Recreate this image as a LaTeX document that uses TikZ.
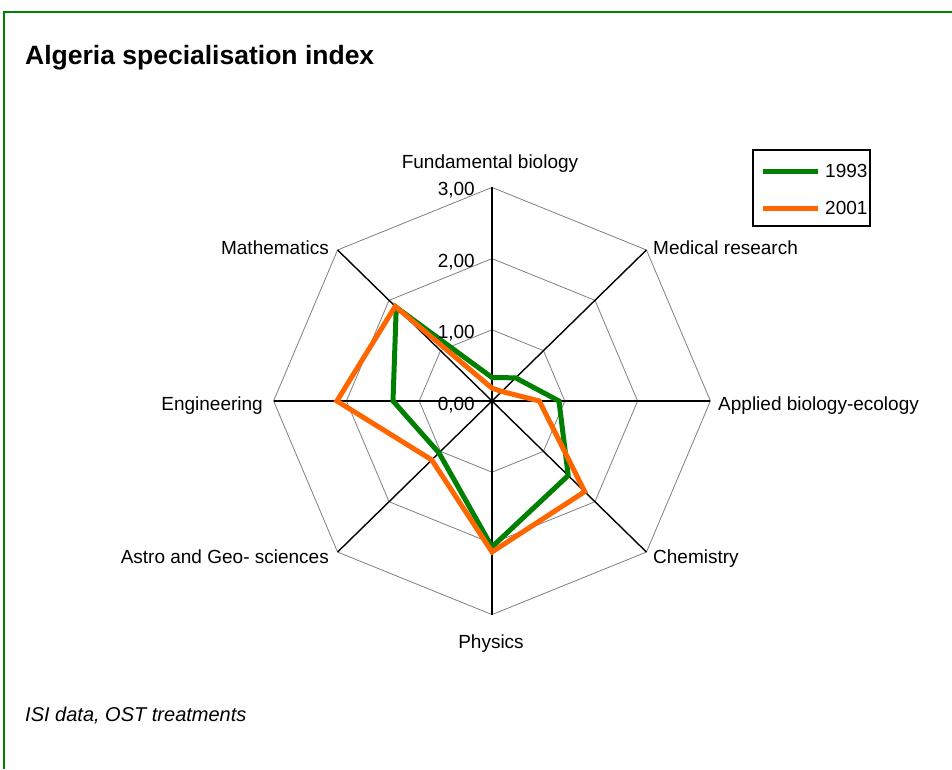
\documentclass[tikz,border=0pt]{standalone}
\usepackage{fontspec}
\setmainfont{Liberation Sans}
\definecolor{sgreen}{RGB}{0,128,0}
\definecolor{sorange}{RGB}{255,102,0}
\begin{document}
\begin{tikzpicture}[x=1pt,y=-1pt,
  lbl/.style={font=\fontsize{19}{22}\selectfont, inner sep=0pt},
  vallbl/.style={font=\fontsize{19}{22}\selectfont, inner sep=0pt, anchor=base east},
  spoke/.style={black, line width=1.4},
  gridline/.style={gray, line width=0.8},
  s1993/.style={sgreen, line width=5, line join=miter},
  s2001/.style={sorange, line width=5, line join=miter}]
\useasboundingbox (0,0) rectangle (952,769);
\fill[white] (0,0) rectangle (952,769);
\draw[sgreen, line width=2] (952,12) -- (4,12) -- (4,769);
\node[anchor=base west, inner sep=0pt, font=\bfseries\fontsize{26.5}{30}\selectfont] (title) at (25,64) {Algeria specialisation index};
\node[anchor=base west, inner sep=0pt, font=\itshape\fontsize{20}{24}\selectfont] (source) at (25,721) {ISI data, OST treatments};

\begin{scope}[shift={(492,401)}, x=72.8pt, y=71.2pt]
  \coordinate (c) at (0,0);
  \foreach \r in {1,2,3}
    \draw[gridline] (90:\r) -- (45:\r) -- (0:\r) -- (-45:\r) -- (-90:\r) -- (-135:\r) -- (180:\r) -- (135:\r) -- cycle;
  \foreach \a/\n in {90/fb,45/mr,0/ab,-45/ch,-90/ph,-135/ag,180/en,135/ma}
    \coordinate (v\n) at (\a:3);
  \foreach \n in {fb,mr,ab,ch,ph,ag,en,ma}
    \draw[spoke] (c) -- (v\n);
  % 1993
  \coordinate (g1) at (90:0.33);
  \coordinate (g2) at (45:0.46);
  \coordinate (g3) at (0:0.92);
  \coordinate (g4) at (-45:1.48);
  \coordinate (g5) at (-90:2.05);
  \coordinate (g6) at (-135:1.03);
  \coordinate (g7) at (180:1.36);
  \coordinate (g8) at (135:1.86);
  \draw[s1993] (g1) -- (g2) -- (g3) -- (g4) -- (g5) -- (g6) -- (g7) -- (g8) -- cycle;
  % 2001
  \coordinate (o1) at (90:0.18);
  \coordinate (o2) at (45:0.19);
  \coordinate (o3) at (0:0.65);
  \coordinate (o4) at (-45:1.80);
  \coordinate (o5) at (-90:2.12);
  \coordinate (o6) at (-135:1.17);
  \coordinate (o7) at (180:2.13);
  \coordinate (o8) at (135:1.88);
  \draw[s2001] (o1) -- (o2) -- (o3) -- (o4) -- (o5) -- (o6) -- (o7) -- (o8) -- cycle;
\end{scope}

\node[vallbl] (v3) at (475,195) {3,00};
\node[vallbl] (v2) at (475,267) {2,00};
\node[vallbl] (v1) at (475,338) {1,00};
\node[vallbl] (v0) at (475,410) {0,00};

\node[lbl, anchor=base] (lfb) at (490,168) {Fundamental biology};
\node[lbl, anchor=base west] (lmr) at (653,254) {Medical research};
\node[lbl, anchor=base west] (lab) at (718,410) {Applied biology-ecology};
\node[lbl, anchor=base west] (lch) at (653,563) {Chemistry};
\node[lbl, anchor=base] (lph) at (491,648) {Physics};
\node[lbl, anchor=base east] (lag) at (329,563) {Astro and Geo- sciences};
\node[lbl, anchor=base east] (len) at (263,410) {Engineering};
\node[lbl, anchor=base east] (lma) at (329,254) {Mathematics};

\draw[black, line width=1.3] (753,150) rectangle (870,226);
\coordinate (lg1a) at (763,171); \coordinate (lg1b) at (818,171);
\coordinate (lg2a) at (763,208); \coordinate (lg2b) at (818,208);
\draw[s1993] (lg1a) -- (lg1b);
\draw[s2001] (lg2a) -- (lg2b);
\node[lbl, anchor=west] (t1993) at (825,171) {1993};
\node[lbl, anchor=west] (t2001) at (825,208) {2001};
\end{tikzpicture}
\end{document}
